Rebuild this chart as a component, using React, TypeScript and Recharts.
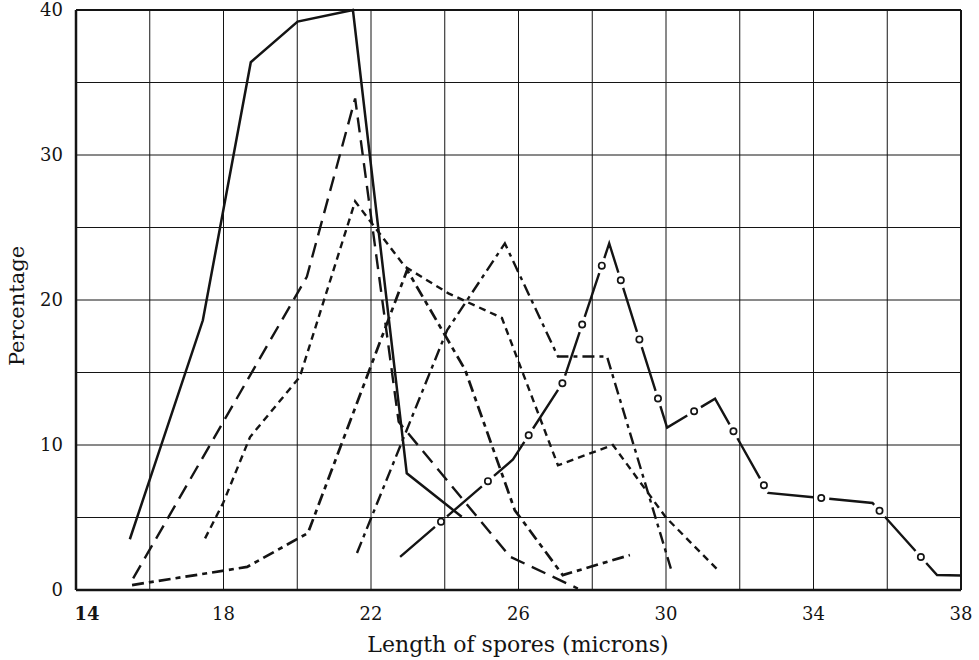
import { LineChart, Line, XAxis, YAxis, CartesianGrid, ReferenceLine } from "recharts";

const X_TICKS = [14, 16, 18, 20, 22, 24, 26, 28, 30, 32, 34, 36, 38];
const X_LABELS = [14, 18, 22, 26, 30, 34, 38];
const Y_TICKS = [0, 5, 10, 15, 20, 25, 30, 35, 40];
const Y_LABELS = [0, 10, 20, 30, 40];

// solid line
const SOLID_X = [15.46, 17.44, 18.74, 20.01, 21.51, 22.97, 24.46];
const SOLID_Y = [3.5, 18.6, 36.4, 39.2, 40, 8.05, 5.05];

// long dashes
const LONG_X = [15.55, 20.26, 21.57, 22.75, 25.77, 27.61];
const LONG_Y = [0.8, 21.6, 33.9, 11.6, 2.3, 0.1];

// short dashes
const SHORT_X = [17.5, 17.99, 18.72, 20.07, 21.57, 22.92, 24.1, 25.55, 27.07, 28.56, 30.0, 31.46];
const SHORT_Y = [3.56, 6.0, 10.55, 14.7, 26.8, 22.3, 20.46, 18.76, 8.6, 10.0, 5.0, 1.24];

// dash-dot starting at the bottom left
const DASHDOT_X = [15.52, 18.64, 20.29, 22.98, 24.55, 25.9, 27.2, 29.02];
const DASHDOT_Y = [0.34, 1.59, 3.93, 22.07, 15.2, 5.5, 1.03, 2.41];

// long-short dashes, peak near 25.6
const MIXED_X = [21.62, 24.06, 25.63, 27.07, 28.4, 30.16];
const MIXED_Y = [2.55, 17.9, 23.9, 16.1, 16.1, 1.24];

// dash with rings
const RING_X = [22.79, 25.85, 27.2, 28.46, 30.03, 31.33, 32.77, 35.6, 37.35, 38.0];
const RING_Y = [2.28, 9.0, 14.3, 23.9, 11.2, 13.2, 6.7, 6.0, 1.03, 1.0];

const zip = (xs: number[], ys: number[]) => xs.map((x, i) => ({ x, y: ys[i] }));

const solid = zip(SOLID_X, SOLID_Y);
const longDash = zip(LONG_X, LONG_Y);
const shortDash = zip(SHORT_X, SHORT_Y);
const dashDot = zip(DASHDOT_X, DASHDOT_Y);
const mixed = zip(MIXED_X, MIXED_Y);
const ringed = zip(RING_X, RING_Y);

const INK = "#141414";
const FONT = "'DejaVu Serif', serif";

const XTick = (props: any) => {
  const { x, y, payload } = props;
  const v = payload.value;
  if (!X_LABELS.includes(v)) return null;
  const first = v === 14;
  return (
    <text
      x={first ? x + 11 : x}
      y={y}
      dy="0.71em"
      textAnchor="middle"
      fill={INK}
      fontSize={18}
      fontWeight={first ? "bold" : "normal"}
      fontFamily={FONT}
    >
      {v}
    </text>
  );
};

const YTick = (props: any) => {
  const { x, y, payload } = props;
  const v = payload.value;
  if (!Y_LABELS.includes(v)) return null;
  return (
    <text x={x} y={y} dy="0.35em" textAnchor="end" fill={INK} fontSize={18} fontFamily={FONT}>
      {v}
    </text>
  );
};

export default function App() {
  return (
    <div style={{ position: "absolute", left: 0, top: 0, width: 979, height: 660, background: "#fff" }}>
      <LineChart width={979} height={660} margin={{ top: 10, right: 18, left: 0, bottom: 0 }}>
        <CartesianGrid stroke={INK} strokeWidth={1} />
        <XAxis
          type="number"
          dataKey="x"
          domain={[14, 38]}
          ticks={X_TICKS}
          interval={0}
          height={70}
          tickLine={false}
          tickMargin={11}
          axisLine={{ stroke: INK, strokeWidth: 2.5 }}
          tick={<XTick />}
          label={{
            content: () => (
              <text x={518} y={652} textAnchor="middle" fill={INK} fontSize={22} fontFamily={FONT}>
                Length of spores (microns)
              </text>
            ),
          }}
        />
        <YAxis
          type="number"
          dataKey="y"
          domain={[0, 40]}
          ticks={Y_TICKS}
          interval={0}
          width={76}
          tickLine={false}
          tickMargin={7}
          axisLine={{ stroke: INK, strokeWidth: 2.5 }}
          tick={<YTick />}
          label={{
            content: () => (
              <text
                x={17}
                y={306}
                transform="rotate(-90 17 306)"
                textAnchor="middle"
                dominantBaseline="central"
                fill={INK}
                fontSize={21}
                fontFamily={FONT}
              >
                Percentage
              </text>
            ),
          }}
        />
        <ReferenceLine x={38} stroke={INK} strokeWidth={2} />
        <ReferenceLine y={40} stroke={INK} strokeWidth={2} />

        <Line data={solid} dataKey="y" stroke={INK} strokeWidth={2.5} dot={false} activeDot={false} isAnimationActive={false} />
        <Line data={longDash} dataKey="y" stroke={INK} strokeWidth={2.4} strokeDasharray="15 8" dot={false} activeDot={false} isAnimationActive={false} />
        <Line data={shortDash} dataKey="y" stroke={INK} strokeWidth={2.4} strokeDasharray="7 5" dot={false} activeDot={false} isAnimationActive={false} />
        <Line data={dashDot} dataKey="y" stroke={INK} strokeWidth={2.7} strokeDasharray="12 5 5 5" dot={false} activeDot={false} isAnimationActive={false} />
        <Line data={mixed} dataKey="y" stroke={INK} strokeWidth={2.4} strokeDasharray="12 5 4 5" dot={false} activeDot={false} isAnimationActive={false} />

        <Line data={ringed} dataKey="y" stroke={INK} strokeWidth={2.4} strokeDasharray="46 16" dot={false} activeDot={false} isAnimationActive={false} />
        <Line data={ringed} dataKey="y" stroke={INK} strokeWidth={8} strokeLinecap="round" strokeDasharray="0 62" strokeDashoffset={8} dot={false} activeDot={false} isAnimationActive={false} />
        <Line data={ringed} dataKey="y" stroke="#fff" strokeWidth={4.6} strokeLinecap="round" strokeDasharray="0 62" strokeDashoffset={8} dot={false} activeDot={false} isAnimationActive={false} />
      </LineChart>
    </div>
  );
}
